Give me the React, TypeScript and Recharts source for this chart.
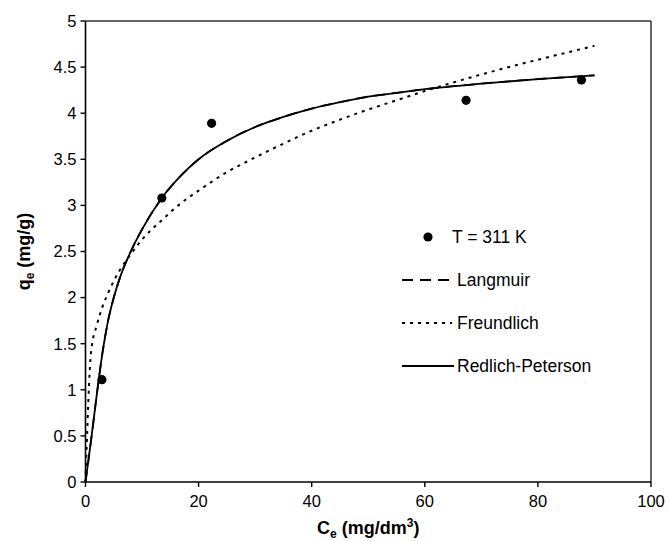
import React from 'react';
import {
  ComposedChart,
  Line,
  Scatter,
  XAxis,
  YAxis,
  ReferenceLine,
} from 'recharts';

// measured points
const ceObs = [2.9, 13.5, 22.3, 67.3, 87.7];
const qeObs = [1.11, 3.08, 3.89, 4.14, 4.36];

// model curves
const ceFit = [0, 1, 2, 3, 4, 5, 6, 8, 10, 13.5, 17, 20, 25, 30, 35, 40, 45, 50, 55, 60, 70, 80, 90];
const langmuir = [0, 0.46, 0.95, 1.4, 1.75, 2.0, 2.2, 2.5, 2.74, 3.08, 3.33, 3.5, 3.7, 3.85, 3.96, 4.05, 4.12, 4.18, 4.22, 4.26, 4.32, 4.37, 4.41];
const freundlich = [0, 1.42, 1.7, 1.9, 2.05, 2.18, 2.29, 2.47, 2.63, 2.84, 3.03, 3.16, 3.36, 3.52, 3.67, 3.81, 3.93, 4.04, 4.14, 4.24, 4.42, 4.58, 4.73];
const redlichPeterson = [0, 0.46, 0.95, 1.4, 1.75, 2.0, 2.2, 2.5, 2.74, 3.08, 3.33, 3.5, 3.7, 3.85, 3.96, 4.05, 4.12, 4.18, 4.22, 4.26, 4.32, 4.37, 4.41];

const xTicks = [0, 20, 40, 60, 80, 100];
const yTicks = [0, 0.5, 1, 1.5, 2, 2.5, 3, 3.5, 4, 4.5, 5];

const FONT = '"Liberation Sans", Arial, sans-serif';

const obsData = ceObs.map((c, i) => ({ ce: c, qe: qeObs[i] }));
const langData = ceFit.map((c, i) => ({ ce: c, qe: langmuir[i] }));
const freuData = ceFit.map((c, i) => ({ ce: c, qe: freundlich[i] }));
const rpData = ceFit.map((c, i) => ({ ce: c, qe: redlichPeterson[i] }));

const Dot = (props: any) => <circle cx={props.cx} cy={props.cy} r={4.6} fill="#000" />;

const XLabel = (props: any) => {
  const vb = props.viewBox || {};
  const cx = vb.x + vb.width / 2;
  return (
    <text x={cx} y={vb.y + 52} textAnchor="middle" fontFamily={FONT} fontWeight="bold" fontSize={18} fill="#000">
      C<tspan fontSize={12} dy={4}>e</tspan>
      <tspan dy={-4}> (mg/dm</tspan>
      <tspan fontSize={12} dy={-7}>3</tspan>
      <tspan dy={7}>)</tspan>
    </text>
  );
};

const YLabel = (props: any) => {
  const vb = props.viewBox || {};
  const cy = vb.y + vb.height / 2;
  const x = 30;
  return (
    <text
      x={x}
      y={cy}
      transform={`rotate(-90, ${x}, ${cy})`}
      textAnchor="middle"
      fontFamily={FONT}
      fontWeight="bold"
      fontSize={18}
      fill="#000"
    >
      q<tspan fontSize={12} dy={4}>e</tspan>
      <tspan dy={-4}> (mg/g)</tspan>
    </text>
  );
};

const legendRows = ['T = 311 K', 'Langmuir', 'Freundlich', 'Redlich-Peterson'];

const LegendBox = () => (
  <svg width={240} height={170} style={{ position: 'absolute', left: 400, top: 215, overflow: 'visible' }}>
    {legendRows.map((name, i) => {
      const y = 22 + i * 43;
      return (
        <g key={name}>
          {i === 0 && <circle cx={28} cy={y} r={4.6} fill="#000" />}
          {i === 1 && <line x1={2} x2={49} y1={y} y2={y} stroke="#000" strokeWidth={1.8} strokeDasharray="11 7" />}
          {i === 2 && <line x1={2} x2={52} y1={y} y2={y} stroke="#000" strokeWidth={2} strokeDasharray="3 5" />}
          {i === 3 && <line x1={2} x2={54} y1={y} y2={y} stroke="#000" strokeWidth={1.8} />}
          <text x={i === 0 ? 52 : 57} y={y + 6} fontFamily={FONT} fontSize={17.5} fill="#000">
            {name}
          </text>
        </g>
      );
    })}
  </svg>
);

export default function App() {
  return (
    <div style={{ position: 'absolute', left: 0, top: 0, width: 669, height: 541, background: '#fff' }}>
      <ComposedChart width={669} height={541} margin={{ top: 21, right: 18, bottom: 0, left: 0 }}>
        <XAxis
          type="number"
          dataKey="ce"
          domain={[0, 100]}
          ticks={xTicks}
          interval={0}
          height={59}
          tickSize={5}
          tickMargin={8}
          tick={{ fill: '#000', fontSize: 16.5, fontFamily: FONT }}
          axisLine={{ stroke: '#000', strokeWidth: 1.6 }}
          tickLine={{ stroke: '#000', strokeWidth: 1.4 }}
          label={<XLabel />}
        />
        <YAxis
          type="number"
          domain={[0, 5]}
          ticks={yTicks}
          interval={0}
          width={85.5}
          tickSize={5}
          tickMargin={4}
          tick={{ fill: '#000', fontSize: 16.5, fontFamily: FONT }}
          axisLine={{ stroke: '#000', strokeWidth: 1.6 }}
          tickLine={{ stroke: '#000', strokeWidth: 1.4 }}
          label={<YLabel />}
        />
        <ReferenceLine y={5} stroke="#333" strokeWidth={1.5} />
        <ReferenceLine x={100} stroke="#333" strokeWidth={1.5} />
        <Line data={langData} dataKey="qe" type="monotone" stroke="#000" strokeWidth={1.8} strokeDasharray="11 7" dot={false} isAnimationActive={false} />
        <Line data={freuData} dataKey="qe" type="monotone" stroke="#000" strokeWidth={2} strokeDasharray="3 5" dot={false} isAnimationActive={false} />
        <Line data={rpData} dataKey="qe" type="monotone" stroke="#000" strokeWidth={1.8} dot={false} isAnimationActive={false} />
        <Scatter data={obsData} dataKey="qe" shape={<Dot />} isAnimationActive={false} />
      </ComposedChart>
      <LegendBox />
    </div>
  );
}
